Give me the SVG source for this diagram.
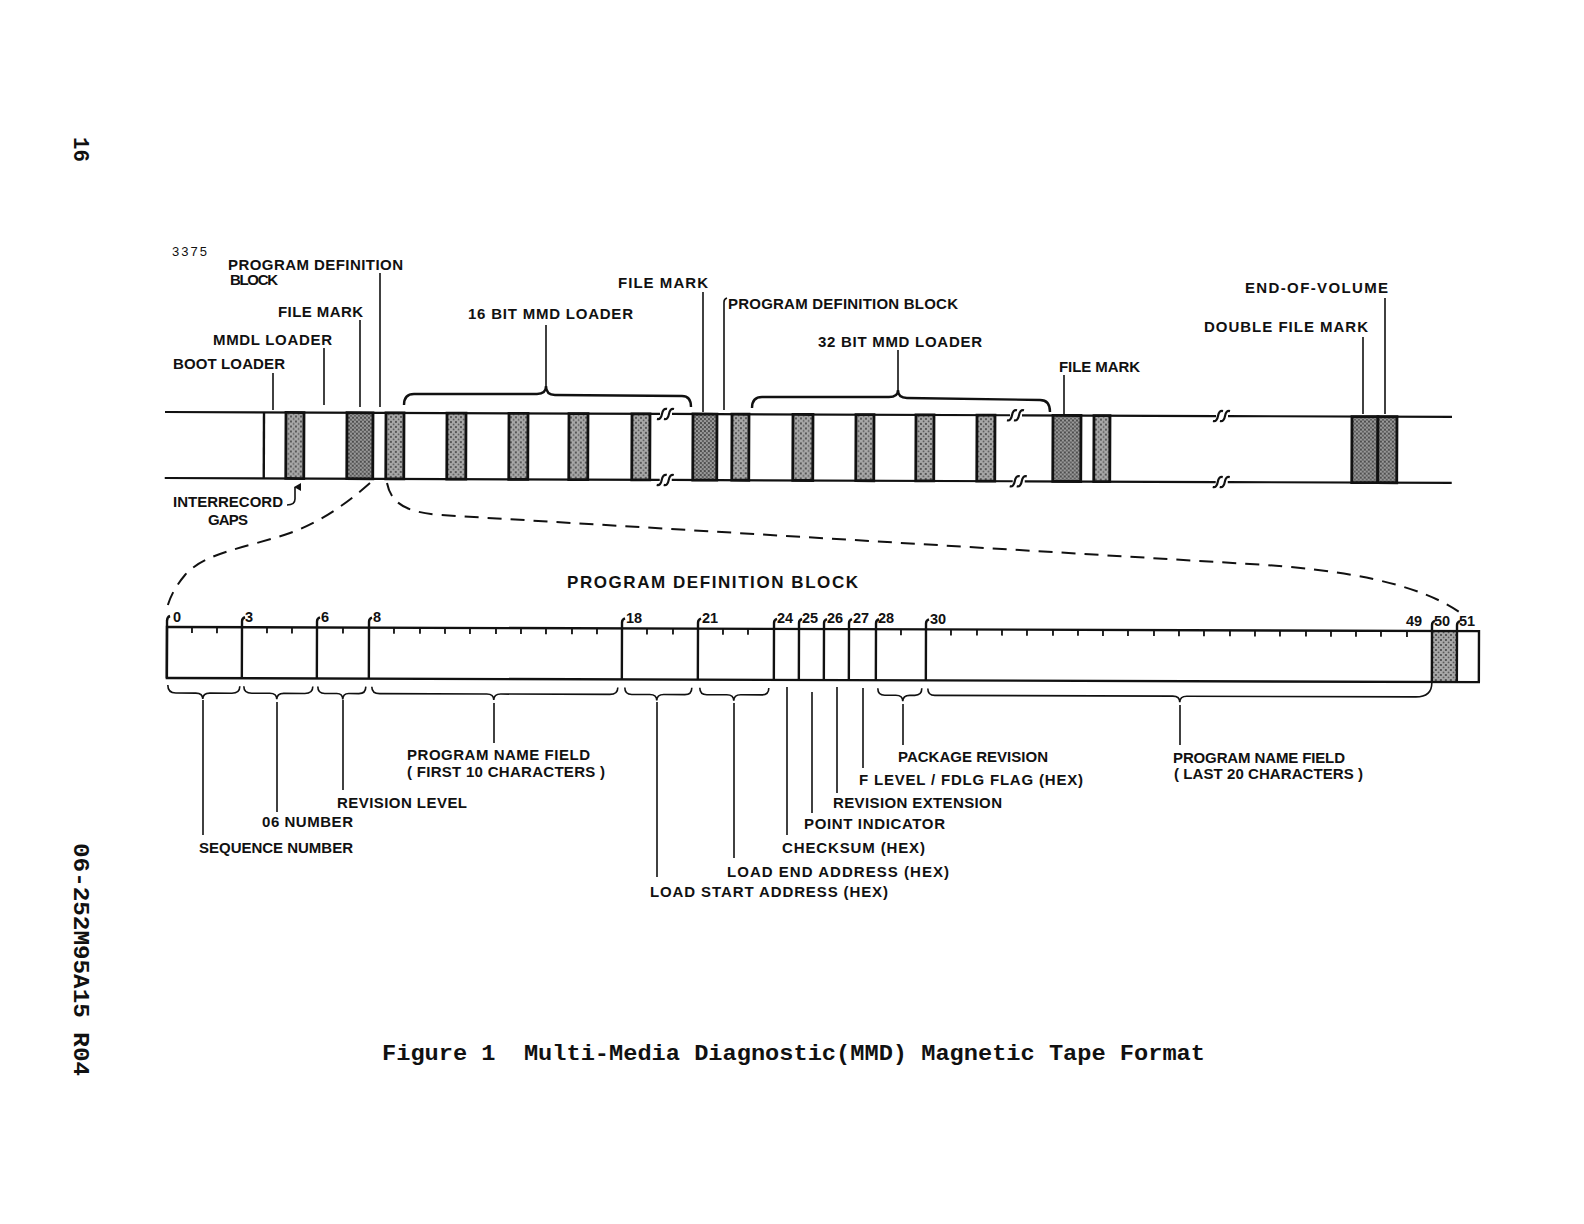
<svg xmlns="http://www.w3.org/2000/svg" width="1584" height="1224" viewBox="0 0 1584 1224">
<defs>
<pattern id="stip" width="5" height="5" patternUnits="userSpaceOnUse">
<rect width="5" height="5" fill="#a8a8a8"/>
<circle cx="1" cy="1" r="1" fill="#3a3a3a"/>
<circle cx="3.6" cy="3.4" r="0.9" fill="#555"/>
</pattern>
<pattern id="stip2" width="4" height="4" patternUnits="userSpaceOnUse">
<rect width="4" height="4" fill="#9a9a9a"/>
<circle cx="1" cy="1" r="1" fill="#333"/>
<circle cx="3" cy="3" r="0.9" fill="#444"/>
</pattern>
<marker id="arrowUp" markerWidth="8" markerHeight="8" refX="4" refY="1" orient="auto" markerUnits="userSpaceOnUse">
<path d="M0,7 L4,0 L8,7 Z" fill="#111"/>
</marker>
</defs>
<style>
text { fill:#111; }
.lbl { font-family:"Liberation Sans", Arial, sans-serif; font-weight:bold; font-size:15px; }
.ttl { font-family:"Liberation Sans", Arial, sans-serif; font-weight:bold; font-size:17px; }
.num { font-family:"Liberation Sans", Arial, sans-serif; font-weight:bold; font-size:14.5px; }
.small { font-family:"Liberation Sans", Arial, sans-serif; font-size:13px; }
.mono { font-family:"Liberation Mono", "Courier New", monospace; font-weight:bold; font-size:22px; white-space:pre; }
.ln { stroke:#111; stroke-width:1.6; fill:none; }
.tape { stroke:#111; stroke-width:2.2; fill:none; }
.thick { stroke:#111; stroke-width:2.4; fill:none; }
.gap { fill:url(#stip); stroke:#111; stroke-width:2.8; }
.fm { fill:url(#stip2); stroke:#111; stroke-width:2.8; }
.dash { stroke:#111; stroke-width:2; fill:none; stroke-dasharray:14 9; }
.tick { stroke:#111; stroke-width:1.8; }
</style>

<!-- side texts -->
<text class="mono" transform="translate(74,137) rotate(90)" textLength="25" lengthAdjust="spacingAndGlyphs">16</text>
<text class="mono" transform="translate(74,843) rotate(90)" textLength="233" lengthAdjust="spacingAndGlyphs">06-252M95A15 R04</text>

<text class="small" x="172" y="256" textLength="35">3375</text>

<!-- tape -->
<g id="tape" transform="rotate(0.22 165 412)">
<path class="tape" d="M165,412 H660 M672,412 H1010 M1022,412 H1216 M1228,412 H1452"/>
<path class="tape" d="M165,478 H660 M672,478 H1013 M1025,478 H1216 M1228,478 H1452"/>
<g id="breaks" class="tape" stroke-width="1.8">
<path d="M657,417 Q661,418 662,412 Q663,406 667,407 M664,417 Q668,418 669,412 Q670,406 674,407"/>
<path d="M657,483 Q661,484 662,478 Q663,472 667,473 M664,483 Q668,484 669,478 Q670,472 674,473"/>
<path d="M1007,417 Q1011,418 1012,412 Q1013,406 1017,407 M1014,417 Q1018,418 1019,412 Q1020,406 1024,407"/>
<path d="M1010,483 Q1014,484 1015,478 Q1016,472 1020,473 M1017,483 Q1021,484 1022,478 Q1023,472 1027,473"/>
<path d="M1213,417 Q1217,418 1218,412 Q1219,406 1223,407 M1220,417 Q1224,418 1225,412 Q1226,406 1230,407"/>
<path d="M1213,483 Q1217,484 1218,478 Q1219,472 1223,473 M1220,483 Q1224,484 1225,478 Q1226,472 1230,473"/>
</g>
<line class="thick" x1="264" y1="412" x2="264" y2="478"/>
<rect class="gap" x="286" y="412" width="18" height="66"/>
<rect class="fm" x="347" y="412" width="26" height="66"/>
<rect class="gap" x="386" y="412" width="18" height="66"/>
<rect class="gap" x="447" y="412" width="19" height="66"/>
<rect class="gap" x="509" y="412" width="19" height="66"/>
<rect class="gap" x="569" y="412" width="19" height="66"/>
<rect class="gap" x="632" y="412" width="18" height="66"/>
<rect class="fm" x="693" y="412" width="24" height="66"/>
<rect class="gap" x="732" y="412" width="17" height="66"/>
<rect class="gap" x="793" y="412" width="20" height="66"/>
<rect class="gap" x="856" y="412" width="18" height="66"/>
<rect class="gap" x="916" y="412" width="18" height="66"/>
<rect class="gap" x="977" y="412" width="18" height="66"/>
<rect class="fm" x="1053" y="412" width="28" height="66"/>
<rect class="gap" x="1094" y="412" width="16" height="66"/>
<rect class="fm" x="1352" y="412" width="26" height="66"/>
<rect class="fm" x="1378" y="412" width="19" height="66"/>
</g>

<!-- top labels -->
<g id="top-labels">
<text class="lbl" x="228" y="270" textLength="175">PROGRAM DEFINITION</text>
<text class="lbl" x="230" y="285" textLength="48">BLOCK</text>
<text class="lbl" x="278" y="317" textLength="85">FILE MARK</text>
<text class="lbl" x="213" y="345" textLength="119">MMDL LOADER</text>
<text class="lbl" x="173" y="369" textLength="112">BOOT LOADER</text>
<text class="lbl" x="468" y="319" textLength="165">16 BIT MMD LOADER</text>
<text class="lbl" x="618" y="288" textLength="90">FILE MARK</text>
<text class="lbl" x="728" y="309" textLength="230">PROGRAM DEFINITION BLOCK</text>
<text class="lbl" x="818" y="347" textLength="164">32 BIT MMD LOADER</text>
<text class="lbl" x="1059" y="372" textLength="81">FILE MARK</text>
<text class="lbl" x="1245" y="293" textLength="143">END-OF-VOLUME</text>
<text class="lbl" x="1204" y="332" textLength="164">DOUBLE FILE MARK</text>
<text class="lbl" x="173" y="507" textLength="110">INTERRECORD</text>
<text class="lbl" x="208" y="525" textLength="40">GAPS</text>
</g>

<!-- connectors -->
<g id="connectors">
<line class="ln" x1="380" y1="273" x2="380" y2="407"/>
<line class="ln" x1="360" y1="320" x2="360" y2="407"/>
<line class="ln" x1="324" y1="348" x2="324" y2="405"/>
<line class="ln" x1="273" y1="373" x2="273" y2="410"/>
<line class="ln" x1="546" y1="325" x2="546" y2="386"/>
<line class="ln" x1="703" y1="292" x2="703" y2="412"/>
<path class="ln" d="M724,410 V302 Q724,299 727,298"/>
<line class="ln" x1="898" y1="350" x2="898" y2="390"/>
<line class="ln" x1="1064" y1="375" x2="1064" y2="415"/>
<line class="ln" x1="1363" y1="337" x2="1363" y2="414"/>
<line class="ln" x1="1385" y1="298" x2="1385" y2="414"/>
<path class="thick" stroke-width="2" d="M404,405 Q404,394 414,394 L537,394 Q546,394 546,386 Q546,395 555,395 L682,396 Q691,396 691,407"/>
<path class="thick" stroke-width="2" d="M752,408 Q752,397 762,397 L889,397 Q898,397 898,390 Q898,398 907,398 L1040,400 Q1050,400 1050,412"/>
<path class="ln" stroke-width="1.8" d="M287,505 Q295,505 295,499 V487" marker-end="url(#arrowUp)"/>
<path class="dash" d="M370,483 C345,505 320,522 290,533 C250,547 205,552 185,575 C175,587 170,597 167,608"/>
<path class="dash" d="M387,483 C391,503 405,512 440,515 L1250,564 C1340,569 1420,583 1462,614"/>
<line class="ln" x1="203" y1="700" x2="203" y2="835"/>
<line class="ln" x1="277" y1="702" x2="277" y2="812"/>
<line class="ln" x1="343" y1="700" x2="343" y2="790"/>
<line class="ln" x1="494" y1="703" x2="494" y2="743"/>
<line class="ln" x1="657" y1="702" x2="657" y2="877"/>
<line class="ln" x1="734" y1="703" x2="734" y2="858"/>
<line class="ln" x1="787" y1="687" x2="787" y2="835"/>
<line class="ln" x1="812" y1="692" x2="812" y2="813"/>
<line class="ln" x1="837" y1="687" x2="837" y2="793"/>
<line class="ln" x1="863" y1="688" x2="863" y2="768"/>
<line class="ln" x1="903" y1="704" x2="903" y2="745"/>
<line class="ln" x1="1180" y1="705" x2="1180" y2="745"/>
</g>

<!-- program definition block ruler -->
<text class="ttl" x="567" y="588" textLength="291">PROGRAM DEFINITION BLOCK</text>
<g id="ruler" transform="rotate(0.18 167 627)">
<rect x="1432" y="627" width="25" height="51" fill="url(#stip)"/>
<path class="thick" d="M167,627 H1479 V678 H167 Z"/>
<g class="thick">
<path d="M167,620 V678 M170,616 Q167,617 167,621"/>
<path d="M242,678 V621 Q242,618 245,617"/>
<path d="M317,678 V621 Q317,618 320,617"/>
<path d="M369,678 V621 Q369,618 372,617"/>
<path d="M622,678 V621 Q622,618 625,617"/>
<path d="M698,678 V621 Q698,618 701,617"/>
<path d="M774,678 V621 Q774,618 777,617"/>
<path d="M799,678 V621 Q799,618 802,617"/>
<path d="M824,678 V621 Q824,618 827,617"/>
<path d="M849,678 V621 Q849,618 852,617"/>
<path d="M876,678 V621 Q876,618 879,617"/>
<path d="M926,678 V621 Q926,618 929,617"/>
<path d="M1432,678 V621 Q1432,618 1435,617"/>
<path d="M1457,678 V621 Q1457,618 1460,617"/>
</g>
<path class="tick" d="M192,627 v6 M217,627 v6 M267,627 v6 M292,627 v6 M343,627 v6 M394,627 v6 M420,627 v6 M445,627 v6 M470,627 v6 M496,627 v6 M521,627 v6 M546,627 v6 M572,627 v6 M597,627 v6 M647,627 v6 M673,627 v6 M723,627 v6 M748,627 v6 M901,627 v6 M951,627 v6 M977,627 v6 M1002,627 v6 M1027,627 v6 M1053,627 v6 M1078,627 v6 M1103,627 v6 M1128,627 v6 M1154,627 v6 M1179,627 v6 M1204,627 v6 M1230,627 v6 M1255,627 v6 M1280,627 v6 M1306,627 v6 M1331,627 v6 M1356,627 v6 M1381,627 v6 M1407,627 v6"/>
<g class="ln" stroke-width="1.8">
<path d="M168,685 Q168,693 176,693 L196,693 Q203,693 203,699 Q203,693 210,693 L232,693 Q240,693 240,686"/>
<path d="M244,686 Q244,693 252,693 L270,693 Q277,693 277,699 Q277,693 284,693 L305,693 Q313,693 313,686"/>
<path d="M318,686 Q318,693 325,693 L337,693 Q343,693 343,699 Q343,693 349,693 L359,693 Q366,693 366,686"/>
<path d="M372,686 Q372,693 380,693 L487,693 Q494,693 494,699 Q494,693 501,693 L610,693 Q618,693 618,686"/>
<path d="M625,686 Q625,693 632,693 L650,693 Q657,693 657,699 Q657,693 664,693 L685,693 Q692,693 692,686"/>
<path d="M700,686 Q700,693 707,693 L727,693 Q734,693 734,699 Q734,693 741,693 L762,693 Q769,693 769,686"/>
<path d="M878,686 Q878,693 885,693 L896,693 Q903,693 903,699 Q903,693 910,693 L915,693 Q922,693 922,686"/>
<path d="M928,686 Q928,693 935,693 L1173,693 Q1180,693 1180,699 Q1180,693 1187,693 L1416,693 Q1432,693 1432,679"/>
</g>
</g>
<g id="ruler-numbers" class="num">
<text x="173" y="622">0</text>
<text x="245" y="622">3</text>
<text x="321" y="622">6</text>
<text x="373" y="622">8</text>
<text x="626" y="623">18</text>
<text x="702" y="623">21</text>
<text x="777" y="623">24</text>
<text x="802" y="623">25</text>
<text x="827" y="623">26</text>
<text x="853" y="623">27</text>
<text x="878" y="623">28</text>
<text x="930" y="624">30</text>
<text x="1406" y="626">49</text>
<text x="1434" y="626">50</text>
<text x="1459" y="626">51</text>
</g>

<!-- bottom labels -->
<g id="field-labels">
<text class="lbl" x="199" y="853" textLength="154">SEQUENCE NUMBER</text>
<text class="lbl" x="262" y="827" textLength="91">06 NUMBER</text>
<text class="lbl" x="337" y="808" textLength="130">REVISION LEVEL</text>
<text class="lbl" x="407" y="760" textLength="183">PROGRAM NAME FIELD</text>
<text class="lbl" x="407" y="777" textLength="198">( FIRST 10 CHARACTERS )</text>
<text class="lbl" x="650" y="897" textLength="238">LOAD START ADDRESS (HEX)</text>
<text class="lbl" x="727" y="877" textLength="222">LOAD END ADDRESS (HEX)</text>
<text class="lbl" x="782" y="853" textLength="143">CHECKSUM (HEX)</text>
<text class="lbl" x="804" y="829" textLength="141">POINT INDICATOR</text>
<text class="lbl" x="833" y="808" textLength="169">REVISION EXTENSION</text>
<text class="lbl" x="859" y="785" textLength="224">F LEVEL / FDLG FLAG (HEX)</text>
<text class="lbl" x="898" y="762" textLength="150">PACKAGE REVISION</text>
<text class="lbl" x="1173" y="763" textLength="172">PROGRAM NAME FIELD</text>
<text class="lbl" x="1174" y="779" textLength="189">( LAST 20 CHARACTERS )</text>
</g>

<text class="mono" xml:space="preserve" x="382" y="1060" textLength="823" lengthAdjust="spacingAndGlyphs">Figure 1  Multi-Media Diagnostic(MMD) Magnetic Tape Format</text>
</svg>
